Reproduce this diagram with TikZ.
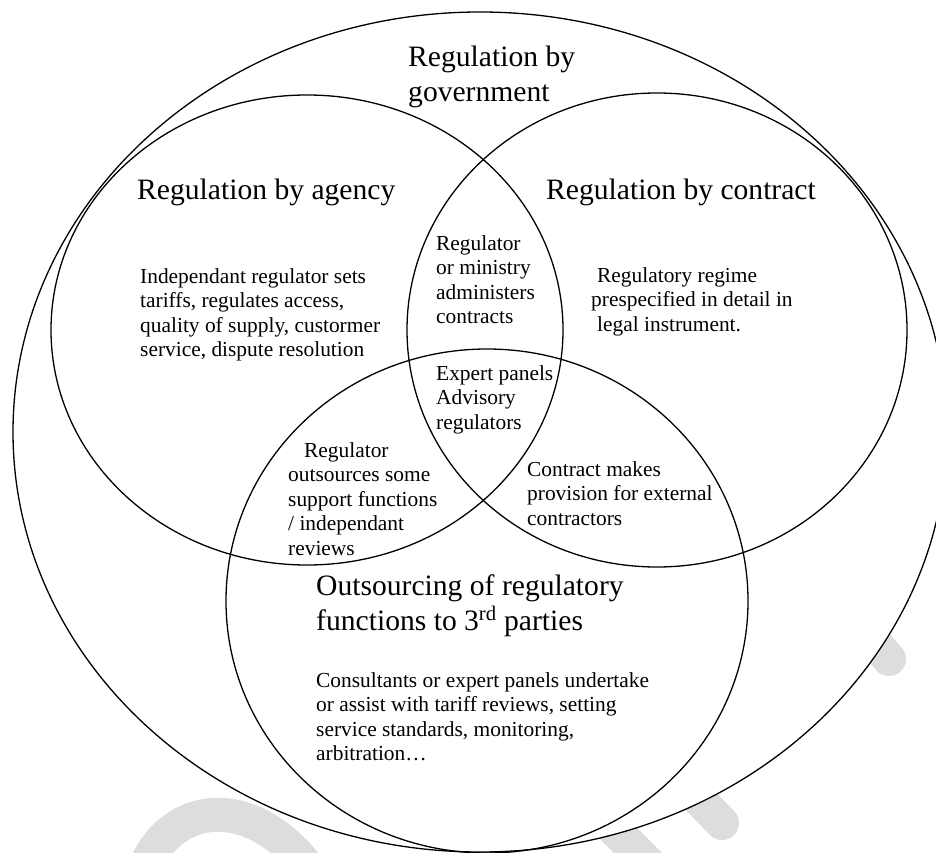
\documentclass[tikz,border=0pt]{standalone}
\usepackage{fontspec}
\setmainfont{Liberation Serif}
\usetikzlibrary{shapes.geometric}
\definecolor{wmark}{RGB}{221,221,221}
% left-aligned block of lines whose baseline is that of its first line
\newcommand\stack[1]{\begin{tabular}[t]{@{}l@{}}#1\end{tabular}}
\begin{document}
\begin{tikzpicture}[x=1pt,y=-1pt,
  set/.style={draw=black, line width=1.3pt, ellipse, inner sep=0pt},
  head/.style={anchor=base west, inner sep=0pt, font=\fontsize{29.6}{35}\selectfont},
  body/.style={anchor=base west, inner sep=0pt, font=\fontsize{21.4}{24.5}\selectfont},
  wmline/.style={draw=wmark, line width=34pt, line cap=round}]
\useasboundingbox (0,0) rectangle (936,853);
\begin{scope}
  \clip (0,0) rectangle (936,853);
  % faint background strokes
  \draw[wmline] (850,615) -- (889,659);
  \draw[wmline] (690,790) -- (722,823);
  \draw[wmline] (600,815) -- (660,875);
  \draw[wmline] (140,880) .. controls (165,800) and (250,790) .. (310,870);
  % the four sets
  \node[set, fill=white, minimum width=934pt, minimum height=840pt] (gov) at (480,432) {};
  \node[set, minimum width=512pt, minimum height=470pt] (agency) at (307,330) {};
  \node[set, minimum width=500pt, minimum height=474pt] (contract) at (657,330) {};
  \node[set, minimum width=522pt, minimum height=504pt] (third) at (487,601) {};
\end{scope}
% labels
\node[head] (govtitle) at (408,67) {\stack{Regulation by\\government}};
\node[head] (agencytitle) at (137,200) {Regulation by agency};
\node[head] (contracttitle) at (546,200) {Regulation by contract};
\node[body] (agencytext) at (140,283) {\stack{Independant regulator sets\\tariffs, regulates access,\\quality of supply, custormer\\service, dispute resolution}};
\node[body] (admintext) at (436,250) {\stack{Regulator\\or ministry\\administers\\contracts}};
\node[body] (contracttext) at (591,282) {\stack{\hspace*{6pt}Regulatory regime\\prespecified in detail in\\\hspace*{6pt}legal instrument.}};
\node[body] (experttext) at (436,380) {\stack{Expert panels\\Advisory\\regulators}};
\node[body] (outsrctext) at (288,457) {\stack{\hspace*{16pt}Regulator\\outsources some\\support functions\\/ independant\\reviews}};
\node[body] (provtext) at (527,476) {\stack{Contract makes\\provision for external\\contractors}};
\node[head] (thirdtitle) at (316,595) {\stack{Outsourcing of regulatory\\functions to 3\textsuperscript{rd} parties}};
\node[body] (thirdtext) at (316,687) {\stack{Consultants or expert panels undertake\\or assist with tariff reviews, setting\\service standards, monitoring,\\arbitration…}};
\end{tikzpicture}
\end{document}
